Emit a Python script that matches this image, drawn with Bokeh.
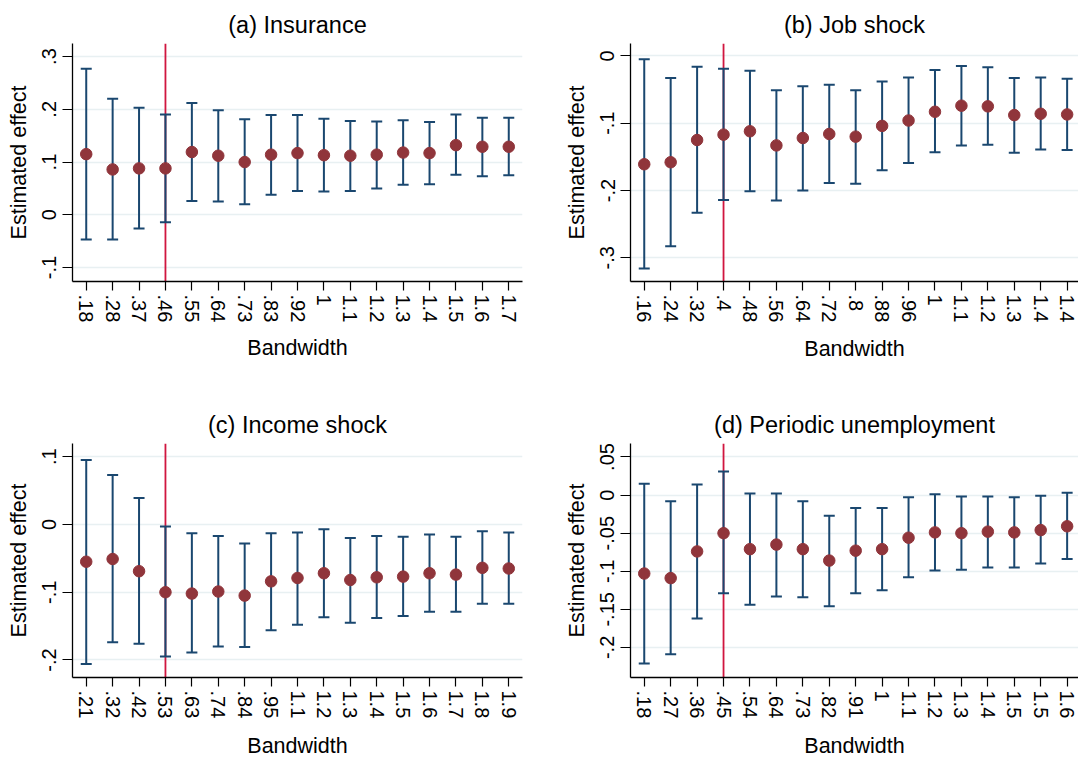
from bokeh.plotting import figure
from bokeh.layouts import column, row
from bokeh.models import FixedTicker, Span, Range1d
from bokeh.embed import file_html
from bokeh.resources import INLINE

# ---------------- data ----------------
titles = ["(a) Insurance", "(b) Job shock", "(c) Income shock", "(d) Periodic unemployment"]

labels_a = [".18", ".28", ".37", ".46", ".55", ".64", ".73", ".83", ".92", "1", "1.1", "1.2", "1.3", "1.4", "1.5", "1.6", "1.7"]
est_a = [0.115, 0.086, 0.088, 0.088, 0.119, 0.112, 0.100, 0.114, 0.117, 0.113, 0.112, 0.114, 0.118, 0.117, 0.132, 0.129, 0.129]
hi_a = [0.277, 0.220, 0.203, 0.190, 0.212, 0.198, 0.181, 0.189, 0.189, 0.182, 0.178, 0.177, 0.179, 0.176, 0.190, 0.184, 0.184]
lo_a = [-0.047, -0.047, -0.026, -0.014, 0.026, 0.025, 0.020, 0.038, 0.045, 0.044, 0.045, 0.050, 0.057, 0.058, 0.076, 0.073, 0.075]

labels_b = [".16", ".24", ".32", ".4", ".48", ".56", ".64", ".72", ".8", ".88", ".96", "1", "1.1", "1.2", "1.3", "1.4", "1.4"]
est_b = [-0.161, -0.158, -0.125, -0.117, -0.112, -0.133, -0.122, -0.116, -0.120, -0.104, -0.096, -0.083, -0.074, -0.075, -0.088, -0.086, -0.087]
hi_b = [-0.005, -0.033, -0.016, -0.019, -0.022, -0.051, -0.045, -0.043, -0.051, -0.038, -0.032, -0.021, -0.015, -0.017, -0.033, -0.032, -0.034]
lo_b = [-0.316, -0.283, -0.233, -0.214, -0.201, -0.215, -0.200, -0.189, -0.190, -0.170, -0.159, -0.143, -0.133, -0.132, -0.144, -0.139, -0.140]

labels_c = [".21", ".32", ".42", ".53", ".63", ".74", ".84", ".95", "1.1", "1.2", "1.3", "1.4", "1.5", "1.6", "1.7", "1.8", "1.9"]
est_c = [-0.055, -0.051, -0.069, -0.100, -0.102, -0.099, -0.105, -0.084, -0.079, -0.072, -0.082, -0.078, -0.077, -0.072, -0.074, -0.064, -0.065]
hi_c = [0.095, 0.073, 0.039, -0.003, -0.013, -0.017, -0.028, -0.013, -0.012, -0.007, -0.020, -0.017, -0.018, -0.015, -0.018, -0.010, -0.012]
lo_c = [-0.206, -0.174, -0.176, -0.195, -0.189, -0.180, -0.181, -0.156, -0.148, -0.137, -0.145, -0.138, -0.135, -0.129, -0.129, -0.117, -0.117]

labels_d = [".18", ".27", ".36", ".45", ".54", ".64", ".73", ".82", ".91", "1", "1.1", "1.2", "1.3", "1.4", "1.5", "1.5", "1.6"]
est_d = [-0.103, -0.109, -0.074, -0.050, -0.071, -0.065, -0.071, -0.086, -0.073, -0.071, -0.056, -0.049, -0.050, -0.048, -0.049, -0.046, -0.041]
hi_d = [0.015, -0.008, 0.014, 0.031, 0.002, 0.002, -0.008, -0.027, -0.017, -0.017, -0.003, 0.001, -0.002, -0.002, -0.003, -0.001, 0.003]
lo_d = [-0.221, -0.209, -0.162, -0.129, -0.144, -0.133, -0.134, -0.146, -0.129, -0.125, -0.108, -0.099, -0.098, -0.095, -0.095, -0.090, -0.084]

# chosen (optimal) bandwidth marked by the vertical line: position in the category list (1-based)
optimal_pos = [4, 4, 4, 4]

yticks_a = [-0.1, 0.0, 0.1, 0.2, 0.3]
ylabels_a = ["-.1", "0", ".1", ".2", ".3"]
yticks_b = [-0.3, -0.2, -0.1, 0.0]
ylabels_b = ["-.3", "-.2", "-.1", "0"]
yticks_c = [-0.2, -0.1, 0.0, 0.1]
ylabels_c = ["-.2", "-.1", "0", ".1"]
yticks_d = [-0.2, -0.15, -0.1, -0.05, 0.0, 0.05]
ylabels_d = ["-.2", "-.15", "-.1", "-.05", "0", ".05"]

# ---------------- style ----------------
NAVY = "#1a476f"
MAROON = "#90353b"
REDLINE = "#d0163f"
GRID = "#e8f0f2"
FONT = "Liberation Sans"


def panel(title, labels, est, hi, lo, yticks, ylabels, opt, yrange, xrange,
          width, height, mb_left, mb_right, mb_top, mb_bottom, xlab_standoff):
    p = figure(width=width, height=height, output_backend="svg", toolbar_location=None,
               x_range=Range1d(*xrange), y_range=Range1d(*yrange),
               min_border_left=mb_left, min_border_right=mb_right,
               min_border_top=mb_top, min_border_bottom=mb_bottom)
    p.outline_line_color = None
    p.background_fill_color = "white"
    p.border_fill_color = "white"

    p.title.text = title
    p.title.align = "center"
    p.title.text_font = FONT
    p.title.text_font_size = "23.5px"
    p.title.text_font_style = "normal"
    p.title.text_color = "black"
    p.title.standoff = 11

    xs = list(range(1, len(labels) + 1))

    p.add_layout(Span(location=opt, dimension="height", line_color=REDLINE,
                      line_width=1.8, level="underlay"))
    p.segment(x0=xs, y0=lo, x1=xs, y1=hi, line_color=NAVY, line_width=2)
    p.scatter(x=xs, y=hi, marker="dash", size=11, line_color=NAVY, line_width=2)
    p.scatter(x=xs, y=lo, marker="dash", size=11, line_color=NAVY, line_width=2)
    p.scatter(x=xs, y=est, marker="circle", size=11.5, fill_color=MAROON,
              line_color=MAROON, line_width=1)

    # x axis
    xa = p.xaxis[0]
    xa.ticker = FixedTicker(ticks=xs)
    xa.major_label_overrides = {x: lab for x, lab in zip(xs, labels)}
    xa.major_label_orientation = "vertical"
    xa.axis_label = "Bandwidth"
    # y axis
    ya = p.yaxis[0]
    ya.ticker = FixedTicker(ticks=yticks)
    ya.major_label_overrides = {t: lab for t, lab in zip(yticks, ylabels)}
    ya.major_label_orientation = "vertical"
    ya.axis_label = "Estimated effect"

    for ax in (xa, ya):
        ax.axis_line_color = "black"
        ax.axis_line_width = 1.3
        ax.major_tick_line_color = "black"
        ax.major_tick_line_width = 1.2
        ax.major_tick_in = 0
        ax.minor_tick_line_color = None
        ax.major_label_text_font = FONT
        ax.major_label_text_font_size = "20px"
        ax.major_label_text_color = "black"
        ax.axis_label_text_font = FONT
        ax.axis_label_text_font_size = "21.5px"
        ax.axis_label_text_font_style = "normal"
        ax.axis_label_text_color = "black"
    xa.major_tick_out = 9
    ya.major_tick_out = 10
    xa.major_label_standoff = 4
    ya.major_label_standoff = 6
    xa.axis_label_standoff = xlab_standoff
    ya.axis_label_standoff = 9

    p.xgrid.visible = False
    p.ygrid.grid_line_color = GRID
    p.ygrid.grid_line_width = 1.4
    return p


pa = panel(titles[0], labels_a, est_a, hi_a, lo_a, yticks_a, ylabels_a, optimal_pos[0],
           (-0.1264, 0.3247), (0.48, 17.52), 540, 390, 72, 18, 43, 109, 11)
pb = panel(titles[1], labels_b, est_b, hi_b, lo_b, yticks_b, ylabels_b, optimal_pos[1],
           (-0.3352, 0.0184), (0.48, 17.43), 538, 390, 90, 0, 43, 103, 12)
pc = panel(titles[2], labels_c, est_c, hi_c, lo_c, yticks_c, ylabels_c, optimal_pos[2],
           (-0.2259, 0.1195), (0.48, 17.52), 540, 371, 72, 18, 53, 79, 13)
pd_ = panel(titles[3], labels_d, est_d, hi_d, lo_d, yticks_d, ylabels_d, optimal_pos[3],
            (-0.2395, 0.0677), (0.48, 17.43), 538, 371, 90, 0, 53, 79, 13)

layout = column(row(pa, pb, spacing=0), row(pc, pd_, spacing=0), spacing=0)

open("out.html", "w").write(file_html(layout, INLINE))
